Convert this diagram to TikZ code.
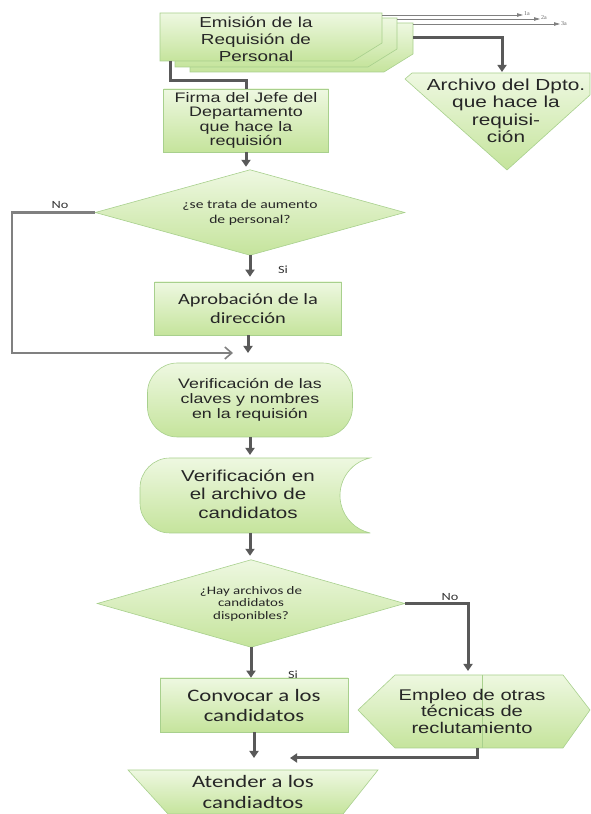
\documentclass[tikz,border=0pt]{standalone}
\usepackage{fontspec}
\setmainfont{Liberation Sans}[FakeStretch=1.3]
\newfontfamily\calib{Carlito}[FakeStretch=1.3]
\newfontfamily\tinyserif{Liberation Serif}
\usetikzlibrary{arrows.meta,backgrounds}
\definecolor{boxtop}{HTML}{EEF8E1}
\definecolor{boxbot}{HTML}{C5E49C}
\definecolor{boxedge}{HTML}{A8D08D}
\definecolor{linkgray}{HTML}{595959}
\definecolor{loopgray}{HTML}{808080}
\tikzset{
  greenbox/.style={draw=boxedge,line width=0.6pt,top color=boxtop,bottom color=boxbot},
  txt/.style={align=center,inner sep=0pt,text=black!85},
  procbox/.style={greenbox,rectangle,txt},
  decision/.style={rectangle,txt,font=\calib\fontsize{12}{15}\selectfont},
  flowlink/.style={draw=linkgray,line width=3pt,-{Triangle[width=9pt,length=7pt]}},
  plainlink/.style={draw=linkgray,line width=3pt},
  looplink/.style={draw=loopgray,line width=2.5pt,-{Straight Barb[width=12pt,length=7pt,line width=1.6pt]}},
  copylink/.style={draw=gray,line width=0.8pt,-{Triangle[width=3.5pt,length=6pt]}},
  copylbl/.style={anchor=west,inner sep=1pt,font=\tinyserif\fontsize{6}{7}\selectfont,text=black!60},
  lbl/.style={font=\calib\fontsize{11}{13}\selectfont,text=black!80},
}
\begin{document}
\begin{tikzpicture}[x=1pt,y=1pt]
\useasboundingbox (0,0) rectangle (591,814);

% copias de la requisicion
\path[greenbox] (190,791) -- (413,791) -- (413,760) -- (384,742) -- (190,742) -- cycle;
\path[greenbox] (175,796) -- (397,796) -- (397,765) -- (368,747) -- (175,747) -- cycle;
\path[greenbox] (160,801) -- (382,801) -- (382,771) -- (353,753) -- (160,753) -- cycle;
\node[txt,font=\fontsize{14.5}{17}\selectfont] (emision) at (256,775) {Emisión de la\\Requisión de\\Personal};

\coordinate (c1) at (382,799);
\coordinate (c2) at (397,795);
\coordinate (c3) at (413,790);
\node[copylbl] (n1a) at (523,800) {1a};
\node[copylbl] (n2a) at (540,796) {2a};
\node[copylbl] (n3a) at (560,790) {3a};
\path[copylink] (c1) -- (c1 -| n1a.west);
\path[copylink] (c2) -- (c2 -| n2a.west);
\path[copylink] (c3) -- (c3 -| n3a.west);

% archivo
\path[greenbox] (412,741) -- (590,741) -- (590,719) -- (507,644) -- (405,735) -- cycle;
\node[txt,font=\fontsize{16}{17.5}\selectfont] (archivo) at (506,703) {Archivo del Dpto.\\que hace la\\requisi-\\ción};
\coordinate (emiR) at (413,776);
\coordinate (archTop) at (502,741);
\path[flowlink,shorten >=1pt] (emiR) -| (archTop);

% columna principal
\node[procbox,minimum width=165pt,minimum height=63pt,font=\fontsize{13.8}{14.5}\selectfont] (firma) at (246,693.5) {Firma del Jefe del\\Departamento\\que hace la\\requisión};
\coordinate (emiBL) at (170,753);
\path[plainlink] (emiBL) -- ++(0,-20) -| (firma.north);

\node[decision,minimum width=309pt,minimum height=85pt] (trata) at (250,601.5) {¿se trata de aumento\\de personal?};
\begin{pgfonlayer}{background}
  \path[greenbox] (trata.north) -- (trata.east) -- (trata.south) -- (trata.west) -- cycle;
\end{pgfonlayer}
\path[flowlink,shorten >=3pt] (firma.south) -- (firma.south |- trata.north);

\node[procbox,minimum width=187pt,minimum height=53pt,font=\calib\fontsize{15.7}{19.5}\selectfont] (aprob) at (248,505.5) {Aprobación de la\\dirección};
\path[flowlink,shorten >=5pt] (trata.south) -- (trata.south |- aprob.north);
\node[lbl] (si1) at (283,544) {Si};

\coordinate (noCorner) at (12,601.5);
\coordinate (joinA) at (233,461);
\path[looplink] (trata.west) -- (noCorner) |- (joinA);
\node[lbl] (no1) at (60,609) {No};
\path[flowlink] (aprob.south) -- (aprob.south |- joinA);

\node[procbox,rounded corners=30pt,minimum width=205pt,minimum height=74pt,font=\fontsize{13.7}{14.8}\selectfont] (claves) at (250,414) {Verificación de las\\claves y nombres\\en la requisión};

% archivo de candidatos
\path[greenbox] (370,281) -- (170,281) arc[start angle=270,end angle=180,radius=30] -- (140,326) arc[start angle=180,end angle=90,radius=30] -- (370,356) arc[start angle=102.6,end angle=257.4,radius=38.4] -- cycle;
\node[txt,font=\fontsize{15.8}{18.5}\selectfont] (candfile) at (248,320) {Verificación en\\el archivo de\\candidatos};
\coordinate (candTop) at (250,356);
\coordinate (candBot) at (250,281);
\path[flowlink,shorten >=3pt] (claves.south) -- (claves.south |- candTop);

\node[decision,minimum width=307pt,minimum height=87pt,font=\calib\fontsize{11.5}{12.5}\selectfont] (haydisp) at (251,210.5) {¿Hay archivos de\\candidatos\\disponibles?};
\begin{pgfonlayer}{background}
  \path[greenbox] (haydisp.north) -- (haydisp.east) -- (haydisp.south) -- (haydisp.west) -- cycle;
\end{pgfonlayer}
\path[flowlink,shorten >=4pt] (candBot) -- (candBot |- haydisp.north);

\node[procbox,minimum width=188pt,minimum height=54pt,font=\calib\fontsize{17.5}{20}\selectfont] (convocar) at (254,109) {Convocar a los\\candidatos};
\path[flowlink] (haydisp.south) -- (haydisp.south |- convocar.north);
\node[lbl] (si2) at (293,139) {Si};

% otras tecnicas
\path[greenbox] (358,104) -- (395,139) -- (563,139) -- (590,104) -- (563,66) -- (395,66) -- cycle;
\draw[boxedge,line width=0.6pt] (482,139) -- (482,66);
\node[txt,font=\fontsize{15.5}{16.5}\selectfont] (tecnicas) at (472,103) {Empleo de otras\\técnicas de\\reclutamiento};
\coordinate (tecTop) at (468,139);
\coordinate (tecBot) at (477,66);
\path[flowlink,shorten >=4pt] (haydisp.east) -| (tecTop);
\node[lbl] (no2) at (450,217) {No};

\coordinate (joinB) at (290,56);
\path[flowlink] (tecBot) |- (joinB);
\path[flowlink] (convocar.south) -- (convocar.south |- joinB);

% atender
\path[greenbox] (128,44) -- (378,44) -- (343,0) -- (168,0) -- cycle;
\node[txt,font=\calib\fontsize{17.5}{21}\selectfont] (atender) at (253,22) {Atender a los\\candiadtos};
\end{tikzpicture}
\end{document}
